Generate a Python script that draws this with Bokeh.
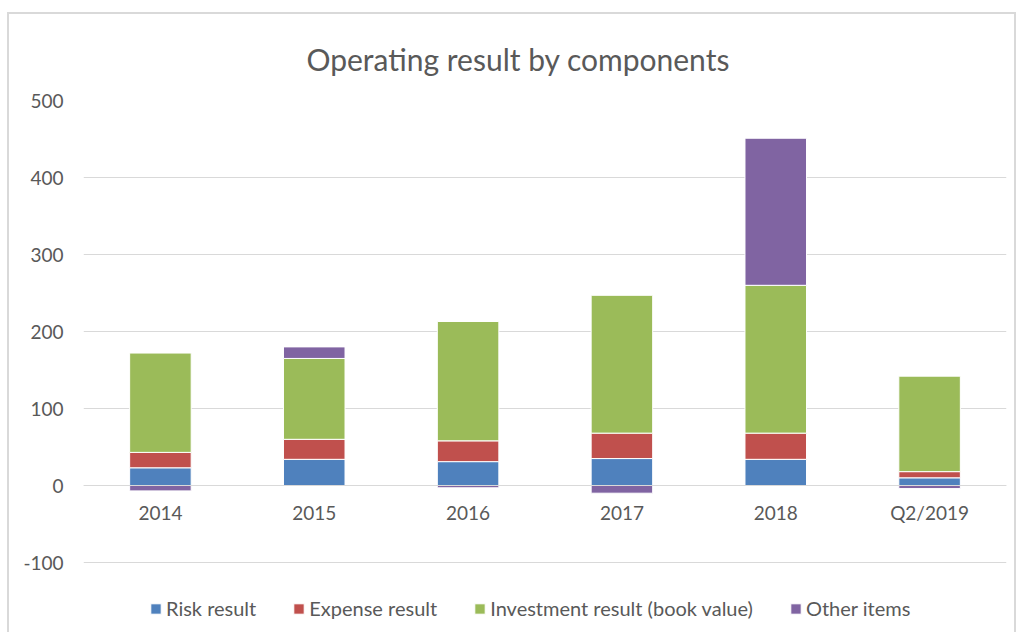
import numpy as np
from bokeh.plotting import figure
from bokeh.models import (ColumnDataSource, Legend, LegendItem, FixedTicker,
                          PrintfTickFormatter)
from bokeh.embed import file_html
from bokeh.resources import INLINE

categories = ["2014", "2015", "2016", "2017", "2018", "Q2/2019"]
risk_result = [23, 34, 31, 35, 34, 10]
expense_result = [20, 26, 27, 33, 34, 8]
investment_result = [129, 105, 155, 179, 192, 124]
other_items = [-7, 15, -3, -10, 191, -4]

series_names = ["Risk result", "Expense result", "Investment result (book value)", "Other items"]
series_values = [risk_result, expense_result, investment_result, other_items]
colors = ["#4F81BD", "#C0504D", "#9BBB59", "#8064A2"]
y_ticks = [-100, 0, 100, 200, 300, 400, 500]

FONT = "Lato"
TXT = "#595959"

W, H = 1009, 620
TOP, BOTTOM, LEFT, RIGHT = 86, 0, 74, 12
frame_h = H - TOP - BOTTOM
px_per_unit = 0.77
y_max = 500
y_min = y_max - frame_h / px_per_unit  # extra room below -100 for the legend

p = figure(x_range=categories, y_range=(y_min, y_max), width=W, height=H,
           output_backend="svg", toolbar_location=None,
           title="Operating result by components")
p.styles = {"margin-left": "7px", "margin-top": "12px",
            "border-left": "2px solid #D9D9D9", "border-top": "2px solid #D9D9D9",
            "border-right": "2px solid #D9D9D9"}
p.min_border_left = LEFT
p.min_border_right = RIGHT
p.min_border_top = TOP
p.min_border_bottom = BOTTOM
p.outline_line_color = None

p.title.align = "left"
p.title.offset = 223
p.title.text_font = FONT
p.title.text_font_size = "30px"
p.title.text_font_style = "normal"
p.title.text_color = TXT
p.title.standoff = 48

# Excel-style stacking: positives upward, negatives downward
pos_base = np.zeros(len(categories))
neg_base = np.zeros(len(categories))
items = []
for name, vals, col in zip(series_names, series_values, colors):
    v = np.array(vals, dtype=float)
    bottom = np.where(v >= 0, pos_base, neg_base)
    top = bottom + v
    pos_base = np.where(v >= 0, top, pos_base)
    neg_base = np.where(v < 0, top, neg_base)
    src = ColumnDataSource(dict(x=categories, top=top, bottom=bottom))
    r = p.vbar(x="x", top="top", bottom="bottom", width=0.4, source=src,
               fill_color=col, line_color="white", line_width=1)
    items.append(LegendItem(label=name, renderers=[r]))

legend = Legend(items=items, orientation="horizontal", location=(66, 14))
legend.label_text_font = FONT
legend.label_text_font_size = "20px"
legend.label_text_color = TXT
legend.glyph_width = 13
legend.glyph_height = 13
legend.label_standoff = 4
legend.spacing = 36
legend.border_line_color = None
legend.background_fill_color = None
legend.background_fill_alpha = 0
legend.padding = 0
legend.margin = 0
legend.label_height = 20
p.add_layout(legend, "center")

p.yaxis.ticker = FixedTicker(ticks=y_ticks)
p.yaxis.formatter = PrintfTickFormatter(format="%d")
p.yaxis.axis_line_color = None
p.yaxis.major_tick_line_color = None
p.yaxis.minor_tick_line_color = None
p.yaxis.major_label_text_font = FONT
p.yaxis.major_label_text_font_size = "19px"
p.yaxis.major_label_text_color = TXT
p.yaxis.major_label_standoff = 14

p.xaxis.fixed_location = 0
p.xaxis.axis_line_color = "#D9D9D9"
p.xaxis.major_tick_line_color = None
p.xaxis.minor_tick_line_color = None
p.xaxis.major_label_text_font = FONT
p.xaxis.major_label_text_font_size = "19px"
p.xaxis.major_label_text_color = TXT
p.xaxis.major_label_standoff = 9

p.xgrid.grid_line_color = None
p.ygrid.grid_line_color = "#D9D9D9"
p.ygrid.grid_line_width = 1

open("out.html", "w").write(file_html(p, INLINE))
